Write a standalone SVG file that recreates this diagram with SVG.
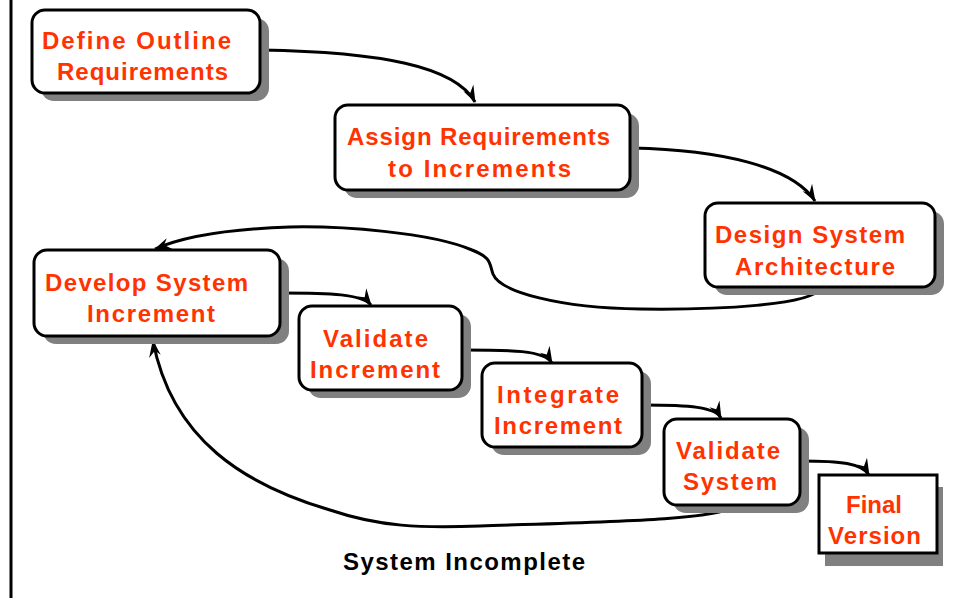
<svg xmlns="http://www.w3.org/2000/svg" width="956" height="598" viewBox="0 0 956 598">
  <style>
    .shadow { fill: #808080; }
    .box { fill: #ffffff; stroke: #000000; stroke-width: 3; }
    .label { font-family: "Liberation Sans", Arial, sans-serif; font-weight: bold; font-size: 24px; fill: #ff3300; text-anchor: middle; }
    .note { font-family: "Liberation Sans", Arial, sans-serif; font-weight: bold; font-size: 24px; fill: #000000; text-anchor: middle; }
    .link { fill: none; stroke: #000000; stroke-width: 3; marker-end: url(#head); }
  </style>
  <defs>
    <marker id="head" viewBox="-18 -10 20 20" refX="0" refY="0" markerWidth="20" markerHeight="20" markerUnits="userSpaceOnUse" orient="auto">
      <path d="M1,0 L-16,-7 L-10,0 L-15,5 Z" fill="#000000"/>
    </marker>
  </defs>

  <rect width="956" height="598" fill="#ffffff"/>
  <line x1="11" y1="0" x2="11" y2="598" stroke="#000000" stroke-width="3"/>

  <g id="connectors">
    <path class="link" d="M261,50 C380,52 455,66 475,102"/>
    <path class="link" d="M632,148 C720,150 792,166 815,201"/>
    <path class="link" d="M820,289 C810,305 720,310 640,309 C560,308 500,292 493,274 C489,263 492,258 472,250 C430,232 340,226 290,227 C230,229 182,237 155,249"/>
    <path class="link" d="M281,293 C330,293 362,294 371,305"/>
    <path class="link" d="M463,350 C510,350 544,350 552,363"/>
    <path class="link" d="M643,405 C690,405 715,407 721,418"/>
    <path class="link" d="M801,461 C840,461 862,463 869,475"/>
    <path class="link" d="M733,506 C724,520 600,522 480,526 C420,528 380,527 330,510 C245,485 172,440 153,341"/>
  </g>

  <g id="define-outline">
    <rect class="shadow" x="41" y="18" width="228" height="83" rx="13"/>
    <rect class="box" x="32" y="10" width="228" height="83" rx="13"/>
    <text class="label" x="136.5" y="49" textLength="189" lengthAdjust="spacing">Define Outline</text>
    <text class="label" x="142.5" y="80" textLength="171" lengthAdjust="spacing">Requirements</text>
  </g>

  <g id="assign-requirements">
    <rect class="shadow" x="344" y="113" width="295" height="85" rx="13"/>
    <rect class="box" x="335" y="105" width="295" height="85" rx="13"/>
    <text class="label" x="478.5" y="145" textLength="263" lengthAdjust="spacing">Assign Requirements</text>
    <text class="label" x="479.5" y="177" textLength="183" lengthAdjust="spacing">to Increments</text>
  </g>

  <g id="design-architecture">
    <rect class="shadow" x="714" y="211" width="230" height="84" rx="13"/>
    <rect class="box" x="705" y="203" width="230" height="84" rx="13"/>
    <text class="label" x="810" y="243" textLength="190" lengthAdjust="spacing">Design System</text>
    <text class="label" x="815" y="275" textLength="160" lengthAdjust="spacing">Architecture</text>
  </g>

  <g id="develop-increment">
    <rect class="shadow" x="43" y="258" width="246" height="86" rx="13"/>
    <rect class="box" x="34" y="250" width="246" height="86" rx="13"/>
    <text class="label" x="146.5" y="291" textLength="203" lengthAdjust="spacing">Develop System</text>
    <text class="label" x="151" y="322" textLength="128" lengthAdjust="spacing">Increment</text>
  </g>

  <g id="validate-increment">
    <rect class="shadow" x="308" y="314" width="163" height="84" rx="13"/>
    <rect class="box" x="299" y="306" width="163" height="84" rx="13"/>
    <text class="label" x="375.5" y="347" textLength="105" lengthAdjust="spacing">Validate</text>
    <text class="label" x="375" y="378" textLength="130" lengthAdjust="spacing">Increment</text>
  </g>

  <g id="integrate-increment">
    <rect class="shadow" x="491" y="371" width="160" height="84" rx="13"/>
    <rect class="box" x="482" y="363" width="160" height="84" rx="13"/>
    <text class="label" x="558" y="403" textLength="122" lengthAdjust="spacing">Integrate</text>
    <text class="label" x="558" y="434" textLength="128" lengthAdjust="spacing">Increment</text>
  </g>

  <g id="validate-system">
    <rect class="shadow" x="673" y="427" width="136" height="86" rx="13"/>
    <rect class="box" x="664" y="419" width="136" height="86" rx="13"/>
    <text class="label" x="728" y="459" textLength="104" lengthAdjust="spacing">Validate</text>
    <text class="label" x="730" y="490" textLength="94" lengthAdjust="spacing">System</text>
  </g>

  <g id="final-version">
    <rect class="shadow" x="825" y="487" width="118" height="79"/>
    <rect class="box" x="819" y="475" width="118" height="78"/>
    <text class="label" x="874" y="513" textLength="56" lengthAdjust="spacing">Final</text>
    <text class="label" x="874.5" y="544" textLength="93" lengthAdjust="spacing">Version</text>
  </g>

  <g id="system-incomplete">
    <text class="note" x="464" y="570" textLength="242" lengthAdjust="spacing">System Incomplete</text>
  </g>
</svg>
